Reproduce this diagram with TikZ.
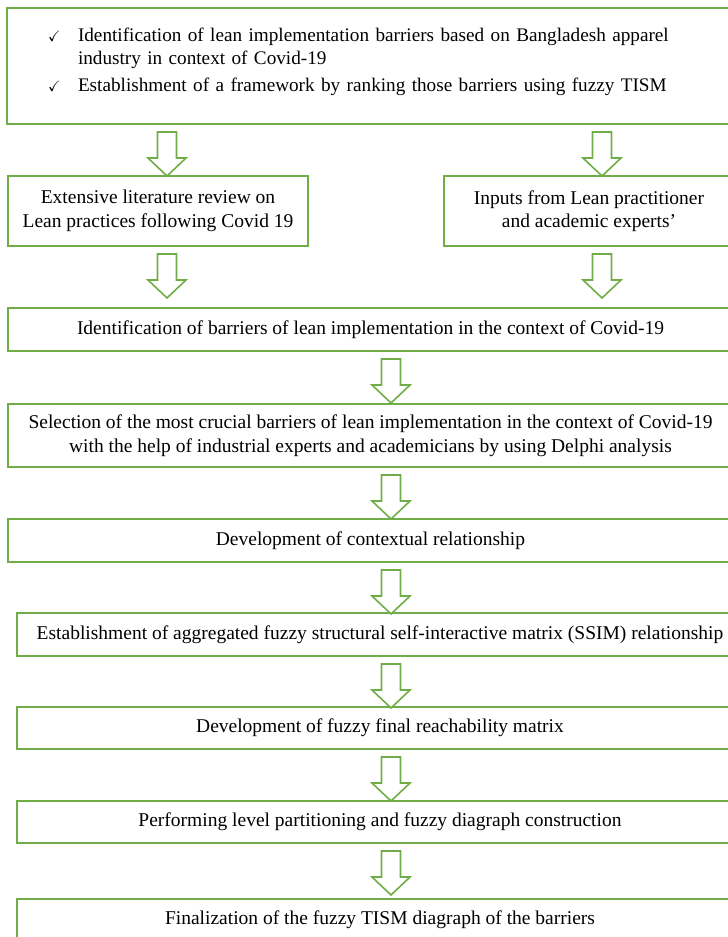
\documentclass[tikz,border=0pt]{standalone}
\usepackage{amssymb}
\usepackage{fontspec}
\setmainfont{Liberation Serif}
\usetikzlibrary{calc}
\definecolor{leangreen}{HTML}{70AD47}
\tikzset{stepbox/.style={rectangle,draw=leangreen,line width=2pt,inner sep=0pt,anchor=north west,align=center,font=\fontsize{19.5}{23.5}\selectfont},
  hollow arrow/.style={draw=leangreen,line width=1.6pt,fill=white,line join=miter},
}
\newcommand{\chk}{{\fontsize{15}{15}\selectfont$\checkmark$}}
% hollow block arrow hanging below a box, on a given column
\newcommand{\blockarrow}[2]{%
  \draw[hollow arrow] ($(#1.south -| #2)+(0,7)$) ++(-9.5,0) -- ++(19,0) -- ++(0,26) -- ++(9.5,0) -- ++(-19,18) -- ++(-19,-18) -- ++(9.5,0) -- cycle;}

\begin{document}
\begin{tikzpicture}[x=1pt,y=-1pt]
	\useasboundingbox (0,0) rectangle (728,937);
	\coordinate (cl) at (167,0);
	\coordinate (cr) at (602,0);
	\coordinate (cm) at (391,0);

	\node[stepbox,minimum width=729pt,minimum height=116pt,text width=643pt,align=left,font=\fontsize{19.2}{23.5}\selectfont] (aim) at (6,7)
		{\noindent\hspace*{-2pt}\begin{tabular}{@{}p{30pt}@{}l@{}}
		\chk & Identification of lean implementation barriers based on Bangladesh apparel\\
		     & industry in context of Covid-19\\[3pt]
		\chk & Establishment of a framework by ranking those barriers using fuzzy TISM\\[9pt]
		\end{tabular}};
	\node[stepbox,minimum width=300pt,minimum height=70pt] (lit) at (7,175) {Extensive literature review on\\Lean practices following Covid 19};
	\node[stepbox,minimum width=290pt,minimum height=70pt] (inp) at (443,175) {Inputs from Lean practitioner\\and academic experts’};
	\node[stepbox,minimum width=725pt,minimum height=43pt] (ident) at (7,307) {Identification of barriers of lean implementation in the context of Covid-19};
	\node[stepbox,minimum width=725pt,minimum height=63pt] (sel) at (7,403) {Selection of the most crucial barriers of lean implementation in the context of Covid-19\\with the help of industrial experts and academicians by using Delphi analysis};
	\node[stepbox,minimum width=725pt,minimum height=43pt] (dev) at (7,518) {Development of contextual relationship};
	\node[stepbox,minimum width=726pt,minimum height=43pt] (ssim) at (16,612) {Establishment of aggregated fuzzy structural self-interactive matrix (SSIM) relationship};
	\node[stepbox,minimum width=726pt,minimum height=42pt] (frm) at (16,706) {Development of fuzzy final reachability matrix};
	\node[stepbox,minimum width=726pt,minimum height=42pt] (lvl) at (16,800) {Performing level partitioning and fuzzy diagraph construction};
	\node[stepbox,minimum width=726pt,minimum height=42pt] (fin) at (16,898) {Finalization of the fuzzy TISM diagraph of the barriers};

	\blockarrow{aim}{cl}
	\blockarrow{aim}{cr}
	\blockarrow{lit}{cl}
	\blockarrow{inp}{cr}
	\blockarrow{ident}{cm}
	\blockarrow{sel}{cm}
	\blockarrow{dev}{cm}
	\blockarrow{ssim}{cm}
	\blockarrow{frm}{cm}
	\blockarrow{lvl}{cm}
\end{tikzpicture}
\end{document}
